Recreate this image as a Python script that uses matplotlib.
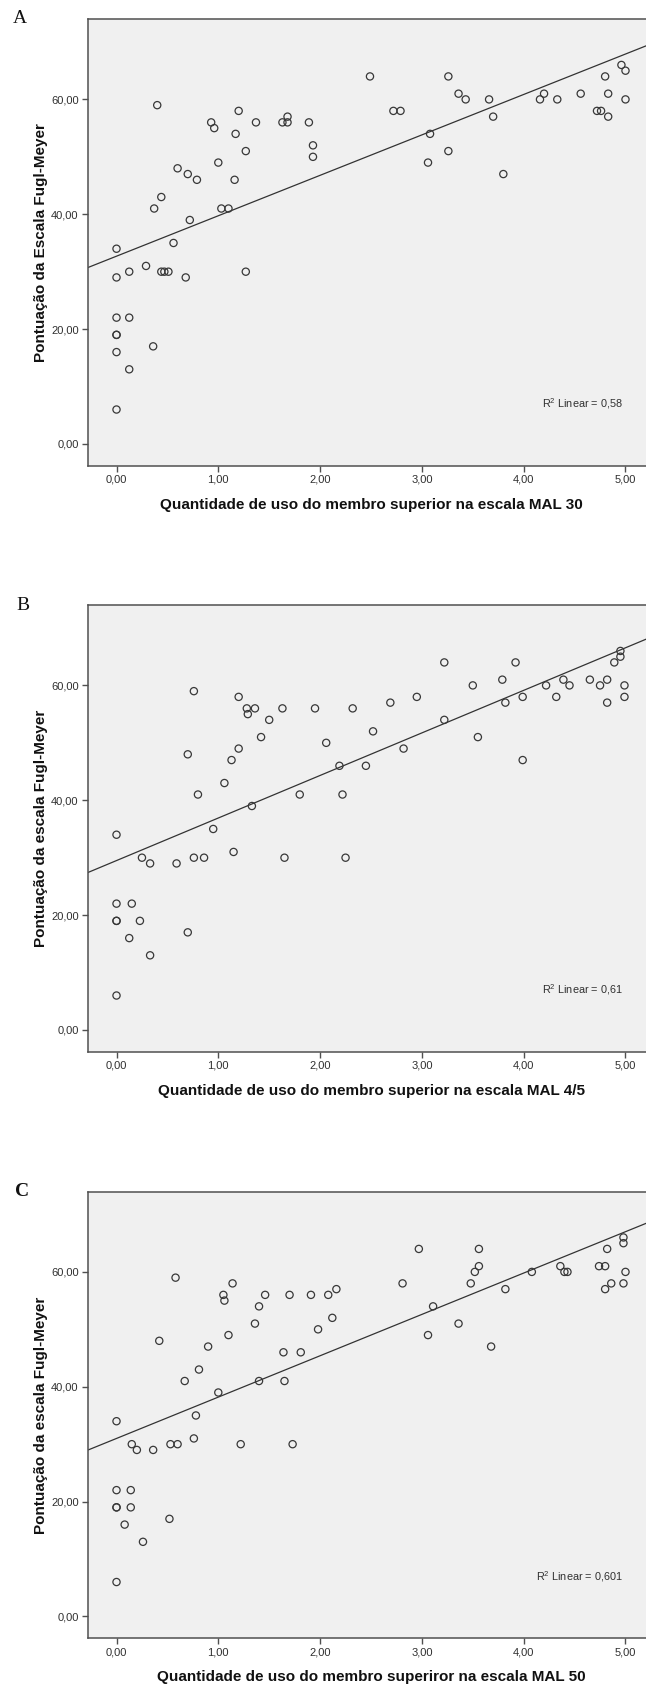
import matplotlib
matplotlib.use('Agg')
import matplotlib.pyplot as plt
import numpy as np

plt.rcParams['font.family'] = ['Liberation Sans', 'DejaVu Sans']
plt.rcParams['mathtext.fontset'] = 'custom'
plt.rcParams['mathtext.rm'] = 'Liberation Sans'

# ---------------- data ----------------
xa = [0, 0, 0, 0, 0, 0, 0, 0.125, 0.125, 0.125,
      0.29, 0.36, 0.37, 0.40, 0.44, 0.44, 0.47, 0.51, 0.56, 0.60,
      0.68, 0.70, 0.72, 0.79, 0.93, 0.96, 1.00, 1.03, 1.10, 1.16,
      1.17, 1.20, 1.27, 1.27, 1.37, 1.63, 1.68, 1.68, 1.89, 1.93,
      1.93, 2.49, 2.72, 2.79, 3.06, 3.08, 3.26, 3.26, 3.36, 3.43,
      3.66, 3.70, 3.80, 4.16, 4.20, 4.33, 4.56, 4.72, 4.76, 4.80,
      4.83, 4.83, 4.96, 5.00, 5.00]
ya = [34, 29, 22, 19, 19, 16, 6, 30, 22, 13,
      31, 17, 41, 59, 43, 30, 30, 30, 35, 48,
      29, 47, 39, 46, 56, 55, 49, 41, 41, 46,
      54, 58, 51, 30, 56, 56, 57, 56, 56, 52,
      50, 64, 58, 58, 49, 54, 64, 51, 61, 60,
      60, 57, 47, 60, 61, 60, 61, 58, 58, 64,
      61, 57, 66, 65, 60]

xb = [0, 0, 0, 0, 0,
      0.125, 0.15, 0.23, 0.25, 0.33, 0.33,
      0.59, 0.70, 0.70, 0.76, 0.76, 0.80, 0.86, 0.95,
      1.06, 1.13, 1.15, 1.20, 1.20, 1.28, 1.29, 1.33, 1.36, 1.42, 1.50,
      1.63, 1.65, 1.80, 1.95, 2.06, 2.19, 2.22, 2.25, 2.32, 2.45, 2.52, 2.69, 2.82, 2.95,
      3.22, 3.22, 3.50, 3.55, 3.79, 3.82, 3.92, 3.99, 3.99,
      4.22, 4.32, 4.39, 4.45, 4.65, 4.75, 4.82, 4.82, 4.89, 4.95, 4.95, 4.99, 4.99]
yb = [34, 22, 19, 19, 6,
      16, 22, 19, 30, 29, 13,
      29, 48, 17, 59, 30, 41, 30, 35,
      43, 47, 31, 58, 49, 56, 55, 39, 56, 51, 54,
      56, 30, 41, 56, 50, 46, 41, 30, 56, 46, 52, 57, 49, 58,
      64, 54, 60, 51, 61, 57, 64, 58, 47,
      60, 58, 61, 60, 61, 60, 61, 57, 64, 66, 65, 60, 58]

xc = [0, 0, 0, 0, 0,
      0.08, 0.14, 0.14, 0.15, 0.20, 0.26, 0.36, 0.42, 0.52, 0.53, 0.58, 0.60, 0.67, 0.76, 0.78, 0.81, 0.90,
      1.00, 1.05, 1.06, 1.10, 1.14, 1.22, 1.36, 1.40, 1.40, 1.46, 1.64, 1.65, 1.70, 1.73, 1.81, 1.91, 1.98,
      2.08, 2.12, 2.16, 2.81, 2.97,
      3.06, 3.11, 3.36, 3.48, 3.52, 3.56, 3.56, 3.68, 3.82,
      4.08, 4.36, 4.40, 4.43, 4.74, 4.80, 4.80, 4.82, 4.86, 4.98, 4.98, 4.98, 5.00]
yc = [34, 22, 19, 19, 6,
      16, 22, 19, 30, 29, 13, 29, 48, 17, 30, 59, 30, 41, 31, 35, 43, 47,
      39, 56, 55, 49, 58, 30, 51, 54, 41, 56, 46, 41, 56, 30, 46, 56, 50,
      56, 52, 57, 58, 64,
      49, 54, 51, 58, 60, 61, 64, 47, 57,
      60, 61, 60, 60, 61, 61, 57, 64, 58, 66, 65, 58, 60]

# regression lines (intercept, slope) and R² labels as shown
fit_a = (32.7, 7.04)
fit_b = (29.5, 7.41)
fit_c = (31.0, 7.20)
r2_labels = ['0,58', '0,61', '0,601']

panel_letters = ['A', 'B', 'C']
ylabels = ['Pontuação da Escala Fugl-Meyer',
           'Pontuação da escala Fugl-Meyer',
           'Pontuação da escala Fugl-Meyer']
xlabels = ['Quantidade de uso do membro superior na escala MAL 30',
           'Quantidade de uso do membro superior na escala MAL 4/5',
           'Quantidade de uso do membro superiror na escala MAL 50']
x_ticks = [0, 1, 2, 3, 4, 5]
y_ticks = [0, 20, 40, 60]

# ---------------- layout ----------------
W, H = 646, 1687
fig = plt.figure(figsize=(W / 100, H / 100), dpi=100)
fig.patch.set_facecolor('white')

ax_left_px = 87.7
ax_w_px = 566.6
ax_h_px = 446.8
tops_px = [19, 605, 1191.5]
letter_pos = [(20, 18.5), (23, 606), (22, 1191.5)]
letter_bold = [False, False, True]

datasets = [(xa, ya, fit_a), (xb, yb, fit_b), (xc, yc, fit_c)]
XLIM = (-0.283, 5.283)
YLIM = (-3.8, 74.0)
spine_col = '#505050'
mark_col = '#383838'

for i, (xs, ys, fit) in enumerate(datasets):
    top = tops_px[i]
    ax = fig.add_axes([ax_left_px / W, 1 - (top + ax_h_px) / H, ax_w_px / W, ax_h_px / H])
    ax.set_facecolor('#f0f0f0')
    ax.set_xlim(*XLIM)
    ax.set_ylim(*YLIM)
    for s in ax.spines.values():
        s.set_color(spine_col)
        s.set_linewidth(1.1)

    ax.scatter(xs, ys, s=27, facecolors='none', edgecolors=mark_col, linewidths=0.9, zorder=3)

    lx = np.array(XLIM)
    ax.plot(lx, fit[0] + fit[1] * lx, color='#333333', lw=0.9, zorder=2)

    ax.set_xticks(x_ticks)
    ax.set_xticklabels([f'{v:.2f}'.replace('.', ',') for v in x_ticks])
    ax.set_yticks(y_ticks)
    ax.set_yticklabels([f'{v:.2f}'.replace('.', ',') for v in y_ticks])
    ax.tick_params(direction='out', length=4.0, width=1.0, color=spine_col,
                  labelsize=8.0, labelcolor='#303030', pad=2.5,
                  top=False, right=False)

    ax.set_xlabel(xlabels[i], fontsize=11, fontweight='bold', color='#111111',
                  ha='center', va='center')
    ax.xaxis.set_label_coords(0.5, -39.0 / ax_h_px)
    ax.set_ylabel(ylabels[i], fontsize=11, fontweight='bold', color='#111111',
                  ha='center', va='center', rotation=90)
    ax.yaxis.set_label_coords((41 - ax_left_px) / ax_w_px, 0.5)

    ax.text(4.97, 7.0, r'$\mathregular{R^2}$ Linear = ' + r2_labels[i],
            ha='right', va='center', fontsize=7.8, color='#303030')

    lxp, lyp = letter_pos[i]
    fig.text(lxp / W, 1 - lyp / H, panel_letters[i], family=['Liberation Serif', 'DejaVu Serif'],
             fontsize=14, fontweight='bold' if letter_bold[i] else 'normal',
             ha='center', va='center', color='#111111')

fig.savefig('out.png', dpi=100, facecolor='white')
